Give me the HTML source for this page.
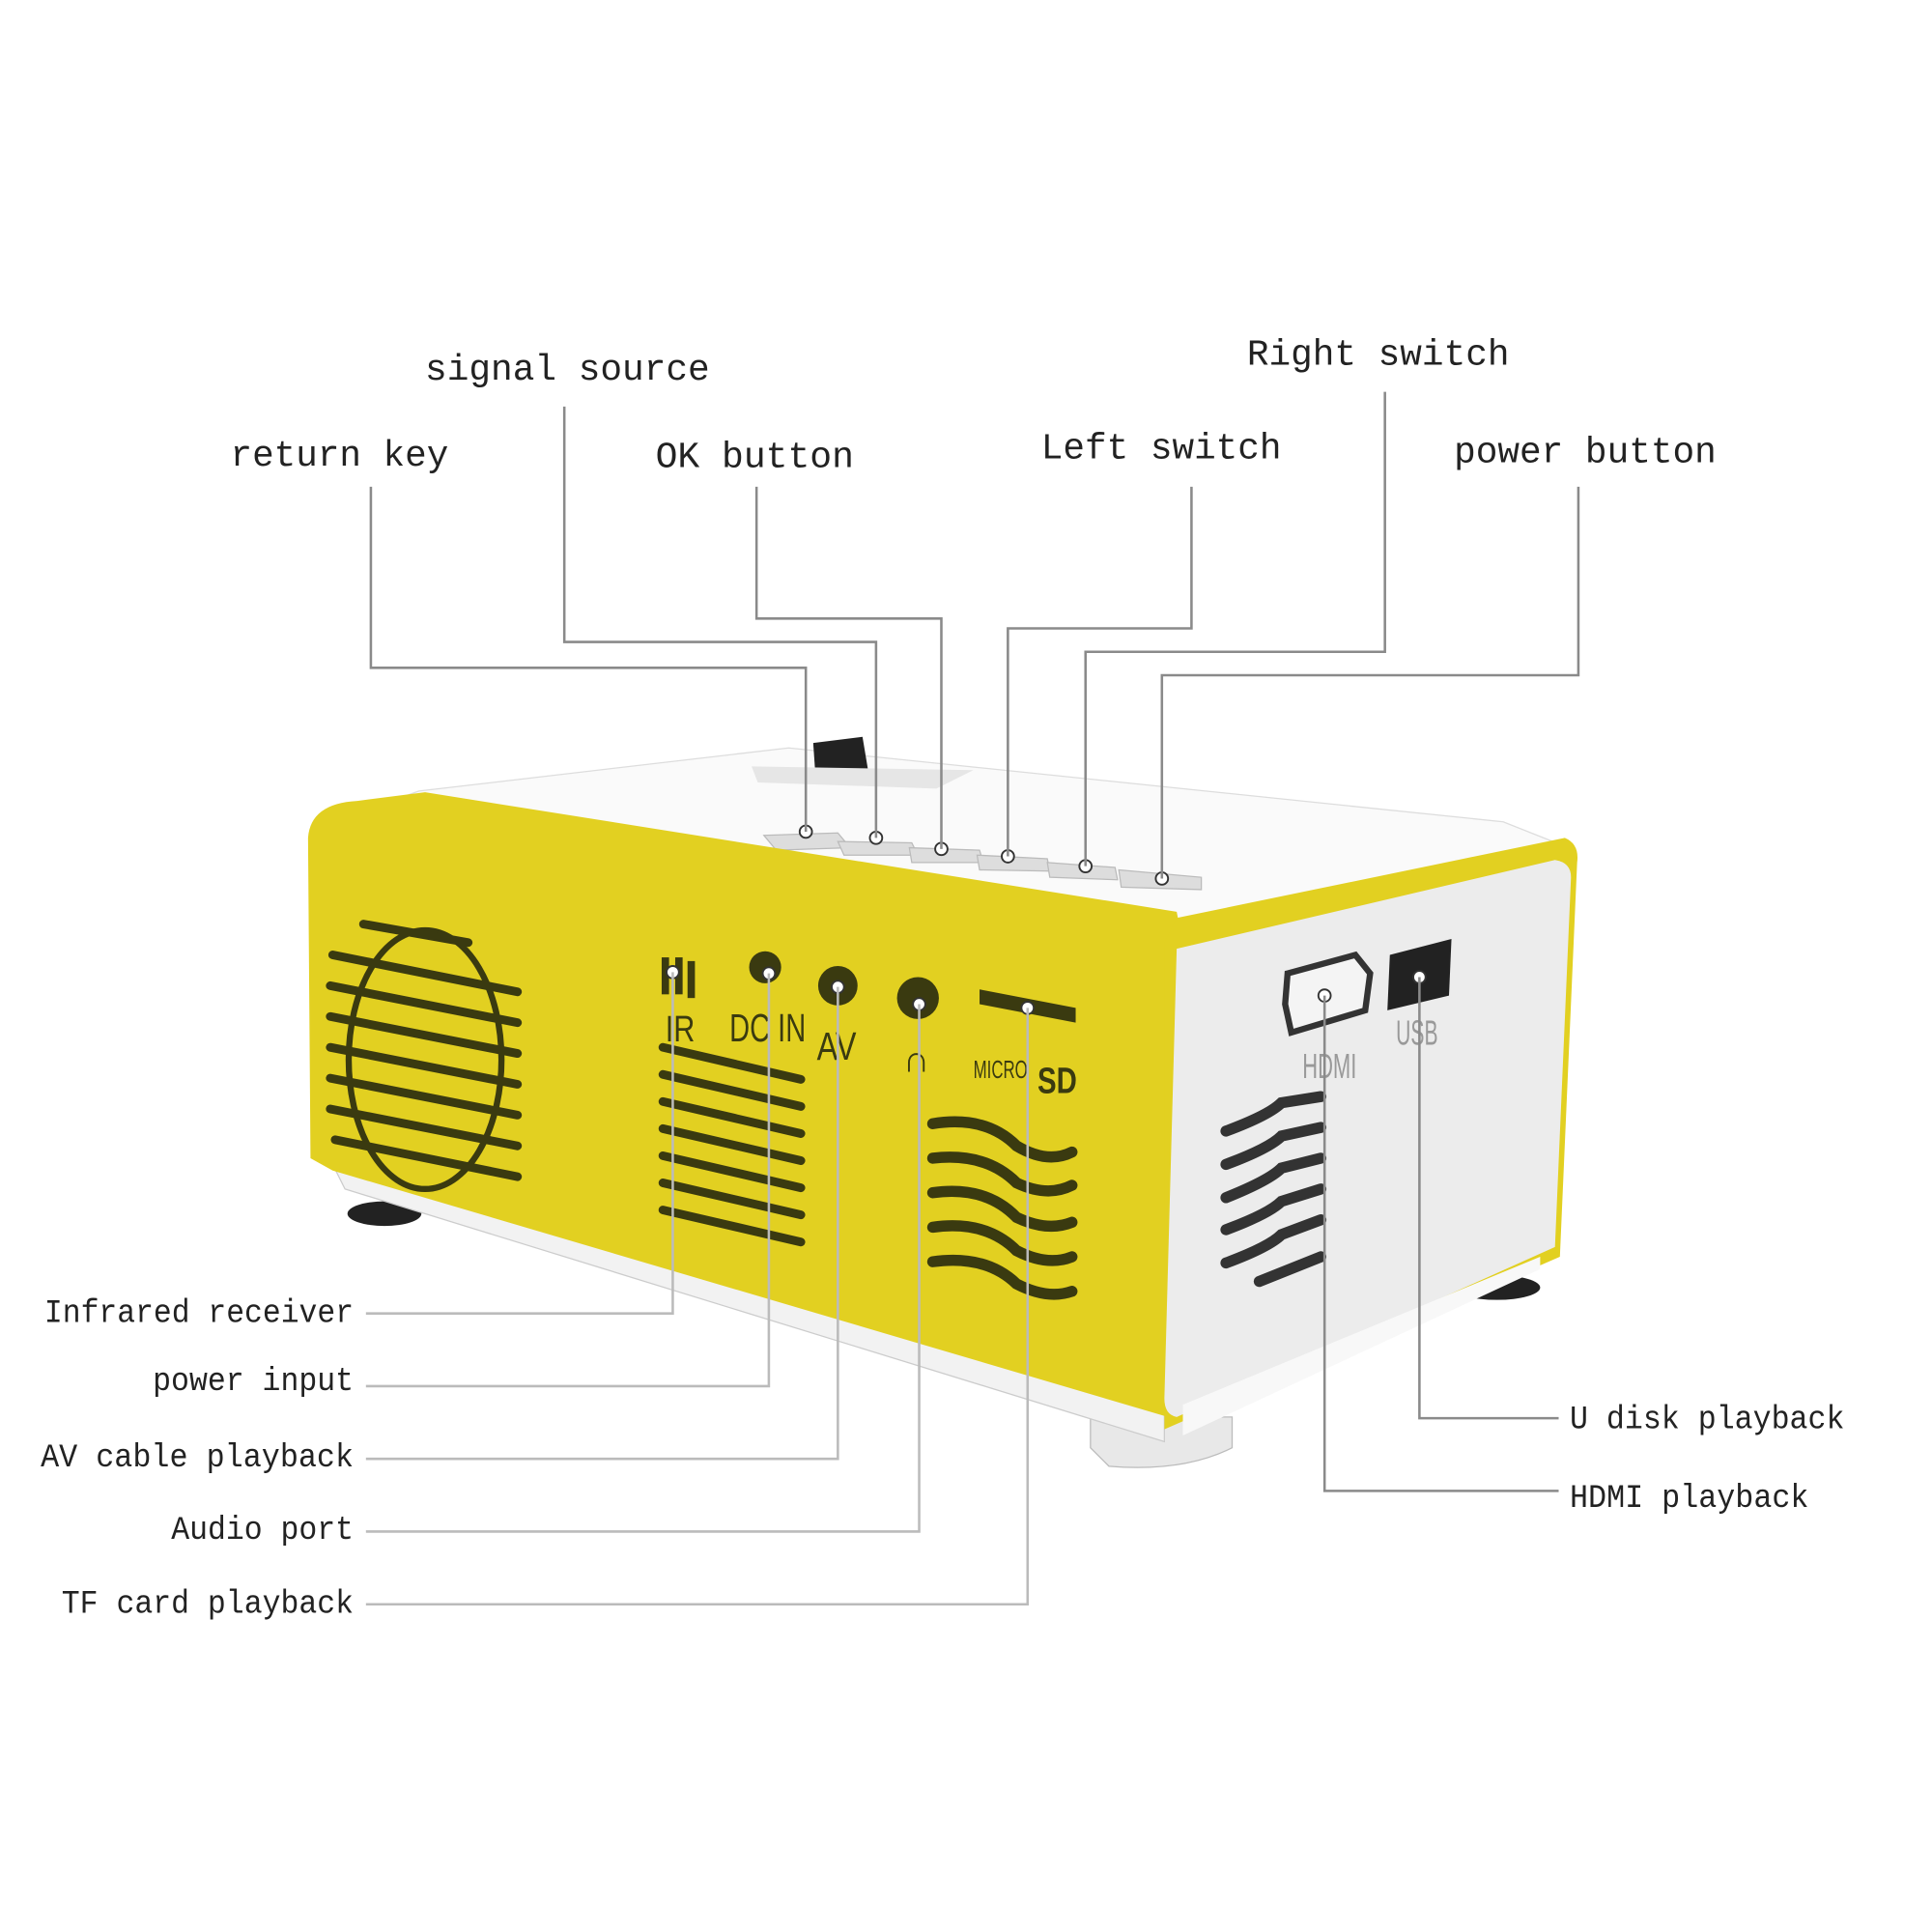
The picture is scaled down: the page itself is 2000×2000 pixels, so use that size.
<!DOCTYPE html>
<html><head><meta charset="utf-8"><style>
html,body{margin:0;padding:0;background:#fff;}
svg{display:block}
text{font-family:"Liberation Mono",monospace;font-size:30px;fill:#222}
</style></head><body>
<svg width="2000" height="2000" viewBox="0 0 1568 1568" xmlns="http://www.w3.org/2000/svg">
<rect width="1568" height="1568" fill="#fff"/>
<!-- feet -->
<ellipse cx="312" cy="985" rx="30" ry="10" fill="#222"/>
<path d="M885 1150 L1000 1150 L1000 1175 Q960 1195 900 1190 L885 1175Z" fill="#e8e8e8" stroke="#bbb"/>
<ellipse cx="1215" cy="1045" rx="35" ry="10" fill="#222"/>
<!-- bottom white strip -->
<path d="M270 945 L945 1145 L945 1170 L280 965 Z" fill="#f2f2f2" stroke="#ccc"/>
<!-- top white -->
<path d="M340 642 L640 607 L1220 667 L1278 690 L955 765 L290 660 Z" fill="#fafafa" stroke="#ddd"/>
<path d="M660 603 L700 598 L705 628 L662 632Z" fill="#222"/>
<path d="M610 622 L790 625 L760 640 L615 635Z" fill="#e6e6e6"/>
<!-- buttons -->
<g fill="#ddd" stroke="#bbb">
<path d="M620 678 L680 676 L690 688 L630 690Z"/><path d="M680 683 L740 684 L745 694 L685 694Z"/>
<path d="M738 688 L795 690 L798 700 L740 700Z"/><path d="M793 694 L850 697 L852 707 L795 706Z"/>
<path d="M850 700 L905 704 L907 714 L852 712Z"/><path d="M908 706 L975 712 L975 722 L910 720Z"/>
</g>
<!-- yellow front -->
<path d="M250 680 Q252 652 290 650 L345 643 L955 740 L960 765 L948 1150 L270 950 L252 940 Z" fill="#e2d021"/>
<!-- right yellow frame -->
<path d="M945 765 L955 745 L1270 680 Q1282 685 1280 700 L1266 1020 L945 1160 Z" fill="#e2d021"/>
<path d="M955 770 L1262 698 Q1275 700 1275 712 L1262 1012 L955 1150 Q945 1148 945 1135 Z" fill="#ececec"/>
<path d="M960 1140 L1250 1020 L1250 1030 L960 1165Z" fill="#f8f8f8"/>
<!-- left speaker -->
<g stroke="#3a3a10" stroke-width="7" stroke-linecap="round" fill="none">
<ellipse cx="345" cy="860" rx="62" ry="105" stroke-width="5"/>
<path d="M270 775 L420 805"/><path d="M268 800 L420 830"/><path d="M268 825 L420 855"/>
<path d="M268 850 L420 880"/><path d="M268 875 L420 905"/><path d="M268 900 L420 930"/>
<path d="M272 925 L420 955"/><path d="M295 750 L380 765"/>
</g>
<!-- middle vents -->
<g stroke="#3a3a10" stroke-width="7" stroke-linecap="round">
<path d="M538 850 L650 876"/><path d="M538 872 L650 898"/><path d="M538 894 L650 920"/>
<path d="M538 916 L650 942"/><path d="M538 938 L650 964"/><path d="M538 960 L650 986"/>
<path d="M538 982 L650 1008"/>
</g>
<!-- right front vents -->
<g stroke="#3a3a10" stroke-width="9" stroke-linecap="round" fill="none">
<path d="M757 912 Q800 905 825 930 Q850 945 870 935"/>
<path d="M757 940 Q800 935 825 960 Q850 972 870 962"/>
<path d="M757 968 Q800 962 825 988 Q850 1000 870 992"/>
<path d="M757 996 Q800 990 825 1015 Q850 1028 870 1020"/>
<path d="M757 1024 Q800 1018 825 1042 Q850 1055 870 1048"/>
</g>
<!-- ports front -->
<g fill="#3a3a10">
<rect x="537" y="777" width="6" height="30"/><rect x="548" y="777" width="6" height="30"/><rect x="558" y="780" width="6" height="30"/>
<circle cx="621" cy="785" r="13"/><circle cx="680" cy="800" r="16"/><circle cx="745" cy="810" r="17"/>
<path d="M795 803 L873 818 L873 830 L795 815Z"/>
</g>
<g style="font-family:'Liberation Sans',sans-serif">
<text x="540" y="845" textLength="24" lengthAdjust="spacingAndGlyphs" style="font-family:'Liberation Sans',sans-serif;font-size:30px;fill:#3a3a10">IR</text>
<text x="592" y="845" textLength="62" lengthAdjust="spacingAndGlyphs" style="font-family:'Liberation Sans',sans-serif;font-size:32px;fill:#3a3a10">DC IN</text>
<text x="663" y="860" textLength="32" lengthAdjust="spacingAndGlyphs" style="font-family:'Liberation Sans',sans-serif;font-size:32px;fill:#3a3a10">AV</text>
<text x="733" y="870" style="font-family:'Liberation Sans',sans-serif;font-size:30px;fill:#3a3a10">∩</text>
<text x="790" y="875" textLength="44" lengthAdjust="spacingAndGlyphs" style="font-family:'Liberation Sans',sans-serif;font-size:20px;fill:#3a3a10">MICRO</text>
<text x="842" y="887" textLength="32" lengthAdjust="spacingAndGlyphs" style="font-family:'Liberation Sans',sans-serif;font-size:30px;font-weight:bold;fill:#3a3a10">SD</text>
</g>
<!-- side ports -->
<path d="M1045 790 L1100 775 L1112 790 L1108 820 L1048 838 L1043 815Z" fill="#f4f4f4" stroke="#333" stroke-width="5"/>
<path d="M1128 775 L1178 762 L1176 808 L1126 820Z" fill="#222"/>
<text x="1057" y="875" textLength="44" lengthAdjust="spacingAndGlyphs" style="font-size:28px;fill:#999;font-family:'Liberation Sans',sans-serif">HDMI</text>
<text x="1133" y="848" textLength="34" lengthAdjust="spacingAndGlyphs" style="font-size:28px;fill:#999;font-family:'Liberation Sans',sans-serif">USB</text>
<!-- side vents -->
<g stroke="#333" stroke-width="9" stroke-linecap="round" fill="none">
<path d="M995 918 Q1030 905 1040 895 L1072 890"/><path d="M995 945 Q1030 932 1040 922 L1072 915"/>
<path d="M995 972 Q1030 958 1040 948 L1072 940"/><path d="M995 998 Q1030 985 1040 975 L1072 965"/>
<path d="M995 1025 Q1030 1012 1040 1002 L1072 990"/><path d="M1022 1040 L1072 1020"/>
</g>
<!-- dots -->
<g fill="#fff" stroke="#333" stroke-width="1.5">
<circle cx="654" cy="675" r="5"/><circle cx="711" cy="680" r="5"/><circle cx="764" cy="689" r="5"/>
<circle cx="818" cy="695" r="5"/><circle cx="881" cy="703" r="5"/><circle cx="943" cy="713" r="5"/>
<circle cx="546" cy="789" r="5"/><circle cx="624" cy="790" r="5"/><circle cx="680" cy="801" r="5"/>
<circle cx="746" cy="815" r="5"/><circle cx="834" cy="818" r="5"/><circle cx="1075" cy="808" r="5"/><circle cx="1152" cy="793" r="5"/>
</g>
<!-- leader lines -->
<g stroke="#8a8a8a" stroke-width="2" fill="none">
<path d="M301 395 V542 H654 V675"/>
<path d="M458 330 V521 H711 V680"/>
<path d="M614 395 V502 H764 V689"/>
<path d="M967 395 V510 H818 V695"/>
<path d="M1124 318 V529 H881 V703"/>
<path d="M1281 395 V548 H943 V713"/>
<path d="M297 1066 H546 V789" stroke="#bbb"/>
<path d="M297 1125 H624 V790" stroke="#bbb"/>
<path d="M297 1184 H680 V801" stroke="#bbb"/>
<path d="M297 1243 H746 V815" stroke="#bbb"/>
<path d="M297 1302 H834 V818" stroke="#bbb"/>
<path d="M1265 1151 H1152 V793"/>
<path d="M1265 1210 H1075 V808"/>
</g>
<!-- labels -->
<text x="345" y="308" textLength="231" lengthAdjust="spacingAndGlyphs">signal source</text>
<text x="1012" y="296" textLength="213" lengthAdjust="spacingAndGlyphs">Right switch</text>
<text x="187" y="378" textLength="177" lengthAdjust="spacingAndGlyphs">return key</text>
<text x="532" y="379" textLength="161" lengthAdjust="spacingAndGlyphs">OK button</text>
<text x="845" y="372" textLength="195" lengthAdjust="spacingAndGlyphs">Left switch</text>
<text x="1180" y="375" textLength="213" lengthAdjust="spacingAndGlyphs">power button</text>
<text x="36" y="1073" textLength="251" lengthAdjust="spacingAndGlyphs" style="font-size:27px">Infrared receiver</text>
<text x="124" y="1128" textLength="163" lengthAdjust="spacingAndGlyphs" style="font-size:27px">power input</text>
<text x="33" y="1190" textLength="254" lengthAdjust="spacingAndGlyphs" style="font-size:27px">AV cable playback</text>
<text x="139" y="1249" textLength="148" lengthAdjust="spacingAndGlyphs" style="font-size:27px">Audio port</text>
<text x="50" y="1309" textLength="237" lengthAdjust="spacingAndGlyphs" style="font-size:27px">TF card playback</text>
<text x="1274" y="1159" textLength="223" lengthAdjust="spacingAndGlyphs" style="font-size:27px">U disk playback</text>
<text x="1274" y="1223" textLength="194" lengthAdjust="spacingAndGlyphs" style="font-size:27px">HDMI playback</text>
</svg>
</body></html>
